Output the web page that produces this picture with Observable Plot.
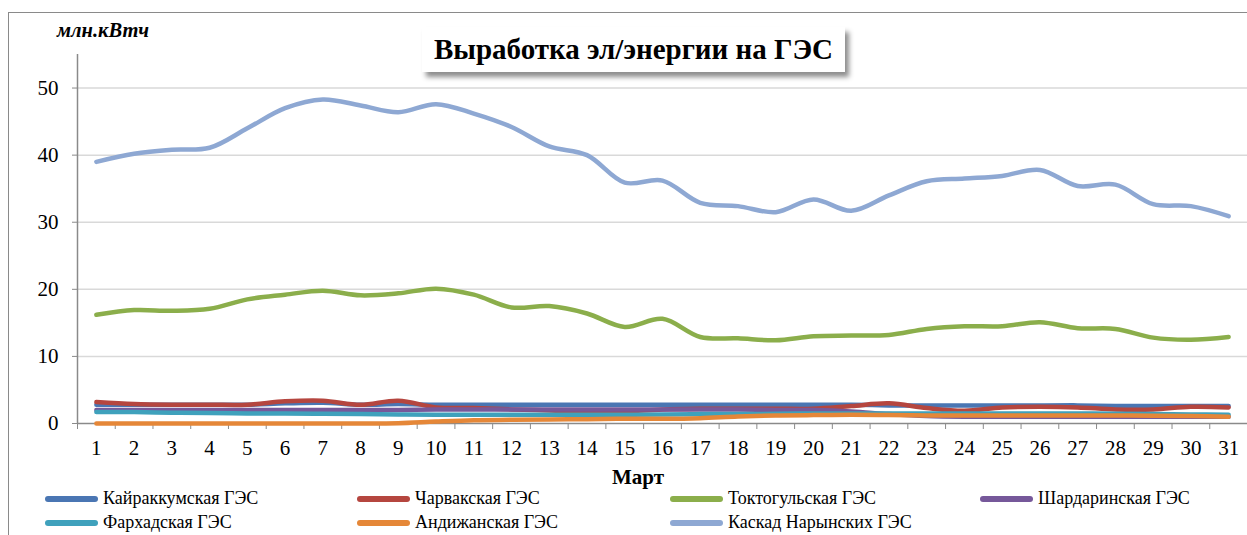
<!DOCTYPE html>
<html><head><meta charset="utf-8">
<script src="https://cdn.jsdelivr.net/npm/d3@7"></script>
<script src="https://cdn.jsdelivr.net/npm/@observablehq/plot@0.6"></script>
<style>
html,body{margin:0;padding:0;background:#fff;overflow:hidden;width:1247px;height:535px;}
#wrap{position:relative;width:1247px;height:535px;font-family:"Liberation Serif","Times New Roman",serif;}
#frame{position:absolute;left:8px;top:12px;width:1400px;height:700px;border:1px solid #8a8a8a;box-sizing:border-box;}
#chart{position:absolute;left:0;top:0;}
#title{position:absolute;left:422px;top:27px;width:423px;height:45px;background:#fff;box-shadow:4px 5px 5px rgba(0,0,0,0.45);font-weight:bold;font-size:29px;line-height:45px;text-align:center;color:#000;}
#unit{position:absolute;left:57px;top:19px;font-weight:bold;font-style:italic;font-size:20.5px;color:#000;}
#xlabel{position:absolute;left:612px;top:465px;font-weight:bold;font-size:21px;color:#000;}
.leg{position:absolute;font-size:18px;color:#000;white-space:nowrap;}
.leg span.sw{position:absolute;left:0;top:8px;width:53px;height:6px;border-radius:3px;}
.leg span.tx{position:absolute;left:58px;top:0;line-height:21px;}
</style></head>
<body><div id="wrap">
<div id="frame"></div>
<div id="chart"></div>
<div id="title">Выработка эл/энергии на ГЭС</div>
<div id="unit">млн.кВтч</div>
<div id="xlabel">Март</div>
<div id="legend"></div>
</div>
<script>
const days = d3.range(1, 32);
const yTicks = [0, 10, 20, 30, 40, 50];
const seriesNames = ["Кайраккумская ГЭС","Чарвакская ГЭС","Токтогульская ГЭС","Шардаринская ГЭС","Фархадская ГЭС","Андижанская ГЭС","Каскад Нарынских ГЭС"];
const seriesColors = ["#4A76B3","#B5463F","#8BAE4B","#76589A","#3FA1BC","#E58738","#8EA8D3"];
const kayrakkum = [2.8,2.8,2.8,2.8,2.8,3.0,3.1,2.8,2.9,2.8,2.8,2.8,2.8,2.8,2.8,2.8,2.8,2.8,2.8,2.8,2.8,2.7,2.7,2.7,2.7,2.7,2.7,2.6,2.6,2.6,2.6];
const charvak = [3.2,2.9,2.8,2.8,2.8,3.3,3.4,2.8,3.4,2.4,2.3,2.1,1.95,1.7,1.8,2.1,2.2,2.2,2.2,2.2,2.6,3.0,2.3,1.9,2.4,2.5,2.4,2.1,2.1,2.5,2.4];
const toktogul = [16.2,16.9,16.8,17.1,18.5,19.2,19.8,19.1,19.4,20.1,19.2,17.3,17.5,16.4,14.4,15.6,12.9,12.7,12.4,13.0,13.1,13.2,14.1,14.5,14.5,15.1,14.2,14.1,12.8,12.5,12.9];
const shardara = [2.0,2.0,2.0,2.0,2.0,2.0,2.0,2.0,2.0,2.1,2.1,2.1,2.1,2.1,2.1,2.1,2.1,2.1,2.0,2.0,1.8,1.4,1.1,1.0,1.0,1.0,1.0,1.0,1.0,1.0,1.0];
const farhad = [1.7,1.7,1.6,1.55,1.5,1.5,1.45,1.4,1.35,1.3,1.3,1.3,1.3,1.3,1.3,1.35,1.4,1.4,1.45,1.5,1.5,1.5,1.5,1.5,1.5,1.5,1.5,1.45,1.4,1.35,1.3];
const andijan = [0,0,0,0,0,0,0,0,0.05,0.3,0.5,0.55,0.6,0.65,0.7,0.7,0.8,1.05,1.2,1.25,1.3,1.25,1.2,1.2,1.2,1.2,1.2,1.2,1.15,1.1,1.0];
const kaskad = [39.0,40.2,40.8,41.1,44.0,47.0,48.3,47.4,46.4,47.6,46.2,44.2,41.3,40.0,35.9,36.2,32.9,32.4,31.5,33.4,31.7,34.0,36.1,36.5,36.9,37.8,35.4,35.6,32.7,32.4,30.9];
const seriesValues = [kayrakkum, charvak, toktogul, shardara, farhad, andijan, kaskad];

const rows = [];
seriesNames.forEach((name, i) => days.forEach((d, j) => rows.push({series: name, day: d, value: seriesValues[i][j]})));
const xDomain = [days[0] - 0.5, days[days.length - 1] + 0.5];
const boundaries = [xDomain[0], ...days.map(d => d + 0.5)];
const yDomain = [0, 55];

const axisColor = "#8a8a8a";
const chart = Plot.plot({
  width: 1247, height: 490,
  marginLeft: 77, marginRight: 0, marginTop: 54, marginBottom: 67,
  x: {domain: xDomain},
  y: {domain: yDomain},
  style: {fontFamily: "'Liberation Serif','Times New Roman',serif", fontSize: "21px", background: "transparent", color: "#000", overflow: "visible"},
  marks: [
    Plot.gridY(yTicks.filter(t => t > 0), {stroke: "#d9d9d9", strokeOpacity: 1, strokeWidth: 1.5}),
    Plot.ruleX([xDomain[0]], {y1: yDomain[0], y2: yDomain[1], stroke: axisColor, strokeWidth: 1.5}),
    Plot.ruleY([yDomain[0]], {stroke: axisColor, strokeWidth: 1.5}),
    Plot.axisY({ticks: yTicks, tickSize: 5, tickPadding: 14, stroke: axisColor, fill: "#000", label: null}),
    Plot.axisX({ticks: boundaries, tickSize: 6, tickFormat: () => "", stroke: axisColor, label: null}),
    Plot.axisX({ticks: days, tickSize: 0, tickPadding: 17, tickFormat: d => String(d), fill: "#000", label: null}),
    ...seriesNames.map((name, i) => Plot.line(rows.filter(r => r.series === name), {
      x: "day", y: "value", stroke: seriesColors[i], strokeWidth: 4.5, curve: "catmull-rom", strokeLinecap: "round"
    }))
  ]
});
document.getElementById("chart").appendChild(chart);

const legendCols = [45, 357, 670, 980];
const legendRows = [488, 512];
const legend = document.getElementById("legend");
seriesNames.forEach((name, i) => {
  const el = document.createElement("div");
  el.className = "leg";
  el.style.left = legendCols[i % 4] + "px";
  el.style.top = legendRows[Math.floor(i / 4)] + "px";
  el.innerHTML = `<span class="sw" style="background:${seriesColors[i]}"></span><span class="tx">${name}</span>`;
  legend.appendChild(el);
});
</script>
</body></html>
